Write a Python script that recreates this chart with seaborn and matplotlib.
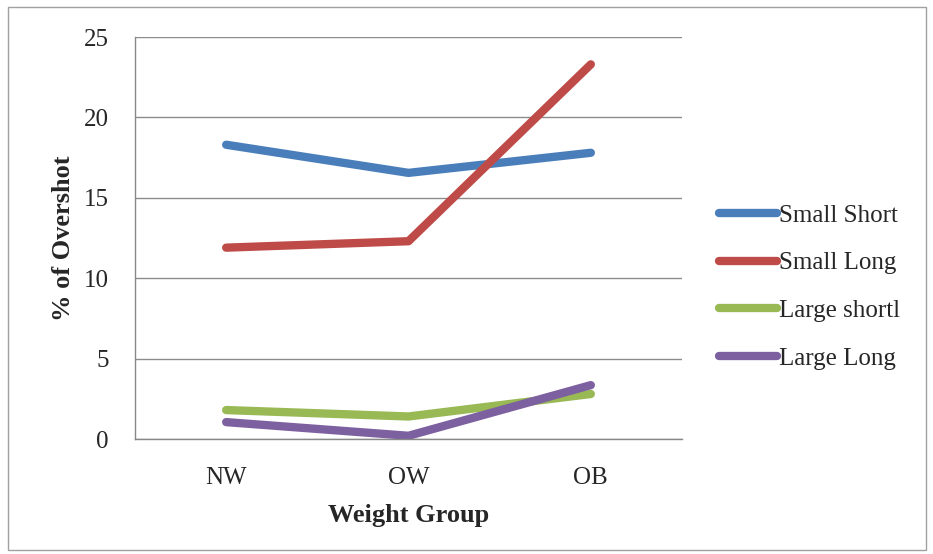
import matplotlib
matplotlib.use("Agg")
import matplotlib.pyplot as plt
from matplotlib.patches import Rectangle
import pandas as pd
import seaborn as sns

groups = ["NW", "OW", "OB"]
small_short = [18.3, 16.55, 17.8]
small_long = [11.9, 12.3, 23.3]
large_short = [1.8, 1.4, 2.8]
large_long = [1.05, 0.2, 3.35]
series_names = ["Small Short", "Small Long", "Large shortl", "Large Long"]
colors = ["#4A7EBB", "#BE4B48", "#98B954", "#7D60A0"]
y_ticks = [0, 5, 10, 15, 20, 25]

rows = []
for name, vals in zip(series_names, [small_short, small_long, large_short, large_long]):
    for i, (g, v) in enumerate(zip(groups, vals)):
        rows.append({"pos": i, "group": g, "value": v, "series": name})
df = pd.DataFrame(rows)

sns.set_style("white")
plt.rcParams["font.family"] = ["Liberation Serif", "DejaVu Serif"]

fig = plt.figure(figsize=(9.33, 5.54), dpi=100)
ax = fig.add_axes([135 / 933, 1 - 439 / 554, (682 - 135) / 933, (439 - 37) / 554])

sns.lineplot(data=df, x="pos", y="value", hue="series", hue_order=series_names,
             palette=colors, linewidth=6, ax=ax, legend=True,
             solid_capstyle="round", solid_joinstyle="round")

ax.set_xlim(-0.5, 2.5)
ax.set_ylim(0, 25)
ax.set_yticks(y_ticks)
ax.set_yticklabels([str(t) for t in y_ticks], fontsize=18)
ax.set_xticks([0, 1, 2])
ax.set_xticklabels(groups, fontsize=18)
ax.tick_params(axis="x", length=0, pad=20)

# boundary ticks between categories
ax.set_xticks([-0.5, 0.5, 1.5, 2.5], minor=True)
ax.tick_params(axis="x", which="minor", length=7, width=1, color="#888888", direction="out")
ax.set_yticks([], minor=True)

for t in y_ticks:
    ax.axhline(t, color="#8c8c8c", lw=1, zorder=0.5)
# short outward y ticks
ax.tick_params(axis="y", which="major", length=7, width=1, color="#888888",
               direction="out", pad=12)

for s in ["top", "right"]:
    ax.spines[s].set_visible(False)
ax.spines["left"].set_color("#888888")
ax.spines["bottom"].set_color("#888888")
ax.spines["left"].set_linewidth(1)
ax.spines["bottom"].set_linewidth(1)

ax.set_xlabel("Weight Group", fontsize=19, fontweight="bold", labelpad=11)
ax.set_ylabel("% of Overshot", fontsize=19, fontweight="bold", labelpad=6)

handles, labels = ax.get_legend_handles_labels()
ax.get_legend().remove()
for h in handles:
    h.set_linewidth(6)
    h.set_solid_capstyle("round")
fig.legend(handles, labels, loc="center left", bbox_to_anchor=(719 / 933, 1 - 287 / 554),
           frameon=False, fontsize=18, handlelength=2.3, handletextpad=0.1,
           labelspacing=1.0, borderaxespad=0, borderpad=0)

fig.patches.append(Rectangle((8 / 933, 4 / 554), 918 / 933, 543 / 554,
                             transform=fig.transFigure, fill=False,
                             edgecolor="#a0a0a0", lw=1))

fig.savefig("out.png", dpi=100)
